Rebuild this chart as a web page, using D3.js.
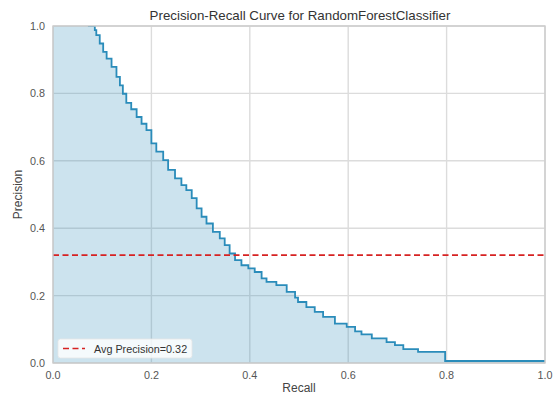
<!DOCTYPE html>
<html>
<head>
<meta charset="utf-8">
<script src="https://cdn.jsdelivr.net/npm/d3@7"></script>
<style>
  body { margin: 0; background: #fff; }
  text { font-family: "Liberation Sans", Arial, sans-serif; }
</style>
</head>
<body>
<div id="chart"></div>
<script>
// recall / precision (step-after curve)
var recall = [0, 0.071, 0.085, 0.088, 0.095, 0.102, 0.109, 0.119, 0.129, 0.136, 0.142,
  0.149, 0.159, 0.170, 0.180, 0.190, 0.200, 0.210, 0.224, 0.234, 0.248, 0.261, 0.271,
  0.282, 0.292, 0.302, 0.312, 0.325, 0.339, 0.349, 0.359, 0.370, 0.383, 0.397, 0.410,
  0.424, 0.434, 0.454, 0.475, 0.492, 0.498, 0.515, 0.532, 0.549, 0.573, 0.597, 0.614,
  0.627, 0.648, 0.678, 0.695, 0.712, 0.742, 0.797, 1.0];
var precision = [1.0, 1.0, 0.988, 0.973, 0.948, 0.923, 0.903, 0.879, 0.849, 0.824, 0.799,
  0.772, 0.753, 0.730, 0.710, 0.691, 0.652, 0.627, 0.602, 0.573, 0.548, 0.528, 0.513,
  0.489, 0.459, 0.434, 0.414, 0.389, 0.370, 0.350, 0.325, 0.305, 0.290, 0.281, 0.270,
  0.251, 0.241, 0.231, 0.211, 0.194, 0.181, 0.166, 0.152, 0.137, 0.117, 0.107, 0.094,
  0.085, 0.073, 0.062, 0.053, 0.041, 0.033, 0.006, 0.006];
var avgPrecision = 0.32;
var ticks = [0, 0.2, 0.4, 0.6, 0.8, 1.0];

var W = 557, H = 397;
var margin = { top: 26, right: 12, bottom: 34, left: 53 };
var width = W - margin.left - margin.right,
  height = H - margin.top - margin.bottom;

var lineColor = "#2a8cba";

var svg = d3.select("#chart").append("svg")
  .attr("width", W)
  .attr("height", H);

var g = svg.append("g")
  .attr("transform", "translate(" + margin.left + "," + margin.top + ")");

var x = d3.scaleLinear().domain([0, 1]).range([0, width]);
var y = d3.scaleLinear().domain([0, 1]).range([height, 0]);

// grid
g.append("g").selectAll("line").data(ticks).enter().append("line")
  .attr("x1", d => x(d)).attr("x2", d => x(d))
  .attr("y1", 0).attr("y2", height)
  .attr("stroke", "#dcdcdc").attr("stroke-width", 1.4);
g.append("g").selectAll("line").data(ticks).enter().append("line")
  .attr("y1", d => y(d)).attr("y2", d => y(d))
  .attr("x1", 0).attr("x2", width)
  .attr("stroke", "#dcdcdc").attr("stroke-width", 1.4);

g.append("clipPath").attr("id", "clip").append("rect")
  .attr("width", width).attr("height", height);

var pts = recall.map((r, i) => [r, precision[i]]);

var area = d3.area()
  .curve(d3.curveStepAfter)
  .x(d => x(d[0]))
  .y0(y(0))
  .y1(d => y(d[1]));

var line = d3.line()
  .curve(d3.curveStepAfter)
  .x(d => x(d[0]))
  .y(d => y(d[1]));

var plot = g.append("g").attr("clip-path", "url(#clip)");

plot.append("path")
  .datum(pts)
  .attr("d", area)
  .attr("fill", lineColor)
  .attr("fill-opacity", 0.24);

plot.append("path")
  .datum(pts.slice(1))
  .attr("d", line)
  .attr("fill", "none")
  .attr("stroke", lineColor)
  .attr("stroke-width", 1.8);

plot.append("line")
  .attr("x1", 0).attr("x2", width)
  .attr("y1", y(avgPrecision)).attr("y2", y(avgPrecision))
  .attr("stroke", "#d62222")
  .attr("stroke-width", 1.6)
  .attr("stroke-dasharray", "6,3.5");

// frame
g.append("rect")
  .attr("width", width).attr("height", height)
  .attr("fill", "none")
  .attr("stroke", "#cccccc")
  .attr("stroke-width", 1.4);

// tick labels
g.append("g").selectAll("text").data(ticks).enter().append("text")
  .attr("x", d => x(d)).attr("y", height + 16)
  .attr("text-anchor", "middle")
  .attr("font-size", 10.8).attr("fill", "#555")
  .text(d => d.toFixed(1));
g.append("g").selectAll("text").data(ticks).enter().append("text")
  .attr("x", -8).attr("y", d => y(d) + 4)
  .attr("text-anchor", "end")
  .attr("font-size", 10.8).attr("fill", "#555")
  .text(d => d.toFixed(1));

// labels
svg.append("text")
  .attr("x", margin.left + width / 2 + 1).attr("y", 20)
  .attr("text-anchor", "middle")
  .attr("font-size", 13.3).attr("fill", "#333")
  .text("Precision-Recall Curve for RandomForestClassifier");

svg.append("text")
  .attr("x", margin.left + width / 2).attr("y", 392)
  .attr("text-anchor", "middle")
  .attr("font-size", 12).attr("fill", "#444")
  .text("Recall");

svg.append("text")
  .attr("transform", "translate(22," + (margin.top + height / 2) + ") rotate(-90)")
  .attr("text-anchor", "middle")
  .attr("font-size", 12).attr("fill", "#444")
  .text("Precision");

// legend
var lg = g.append("g").attr("transform", "translate(5," + (height - 24) + ")");
lg.append("rect")
  .attr("width", 134).attr("height", 19).attr("rx", 2.5)
  .attr("fill", "#ffffff").attr("fill-opacity", 0.8)
  .attr("stroke", "#e6e6e6").attr("stroke-width", 0.8);
lg.append("line")
  .attr("x1", 5).attr("x2", 27).attr("y1", 9.5).attr("y2", 9.5)
  .attr("stroke", "#d62222").attr("stroke-width", 1.6)
  .attr("stroke-dasharray", "6,3.5");
lg.append("text")
  .attr("x", 36).attr("y", 13.5)
  .attr("font-size", 10.8).attr("fill", "#333")
  .text("Avg Precision=" + avgPrecision.toFixed(2));
</script>
</body>
</html>
